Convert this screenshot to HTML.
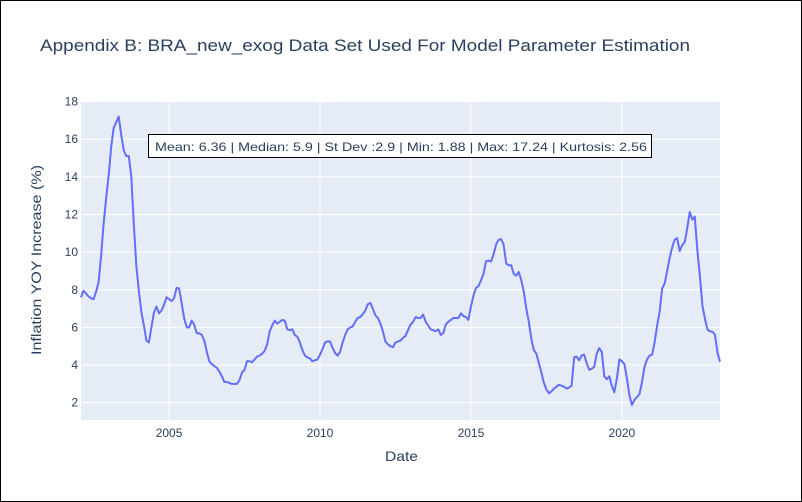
<!DOCTYPE html>
<html><head><meta charset="utf-8"><style>
body{margin:0;background:#fff}
svg{display:block;font-family:"Liberation Sans",Arial,sans-serif}
</style></head><body>
<svg id="c" width="802" height="502" xmlns="http://www.w3.org/2000/svg">
<rect x="0.5" y="0.5" width="801" height="501" fill="#fff" stroke="#000"/>
<text x="40" y="51" font-size="17" fill="#2a3f5f" textLength="650" lengthAdjust="spacingAndGlyphs">Appendix B: BRA_new_exog Data Set Used For Model Parameter Estimation</text>
<rect x="81" y="101" width="639" height="319" fill="#E5ECF6"/>
<g id="grid"></g>
<g id="ticks"></g>
<path id="line" fill="none" stroke="#636efa" stroke-width="2" stroke-linejoin="round"/>
<text x="385" y="461" font-size="14" fill="#2a3f5f" textLength="33" lengthAdjust="spacingAndGlyphs">Date</text>
<text transform="translate(41,260) rotate(-90)" font-size="14" fill="#2a3f5f" text-anchor="middle" textLength="190" lengthAdjust="spacingAndGlyphs">Inflation YOY Increase (%)</text>
<rect x="148.5" y="134.5" width="503" height="23" fill="#fff" stroke="#000"/>
<text x="155" y="151" font-size="12" fill="#2a3f5f" textLength="492" lengthAdjust="spacingAndGlyphs">Mean: 6.36 | Median: 5.9 | St Dev :2.9 | Min: 1.88 | Max: 17.24 | Kurtosis: 2.56</text>
</svg>
<script>
const startYear = 2002, startMonth = 2;
const values = [
7.6,7.95,7.8,7.65,7.55,7.5,7.9,8.4,9.8,11.5,12.9,
14.1,15.6,16.6,16.9,17.2,16.2,15.4,15.1,15.1,14.0,11.5,9.3,
7.9,6.8,6.1,5.3,5.2,6.0,6.8,7.1,6.75,6.9,7.2,7.6,
7.5,7.4,7.55,8.1,8.07,7.3,6.5,6.0,6.0,6.36,6.15,5.7,
5.68,5.6,5.3,4.7,4.2,4.05,3.95,3.85,3.65,3.4,3.1,3.1,
3.05,3.0,3.0,3.0,3.2,3.6,3.75,4.2,4.2,4.15,4.3,4.45,
4.5,4.6,4.75,5.1,5.8,6.1,6.36,6.2,6.3,6.4,6.36,5.9,
5.85,5.9,5.6,5.5,5.2,4.8,4.5,4.4,4.36,4.2,4.25,4.3,
4.55,4.85,5.2,5.26,5.25,4.9,4.64,4.5,4.7,5.2,5.6,5.9,
6.0,6.05,6.3,6.5,6.55,6.7,6.9,7.23,7.3,7.0,6.65,6.5,
6.2,5.8,5.25,5.1,5.0,4.95,5.2,5.25,5.3,5.45,5.55,5.85,
6.15,6.3,6.55,6.5,6.5,6.68,6.3,6.1,5.9,5.85,5.8,5.9,
5.6,5.7,6.15,6.3,6.4,6.5,6.5,6.5,6.75,6.6,6.55,6.4,
7.1,7.7,8.1,8.2,8.5,8.85,9.5,9.55,9.5,9.9,10.4,10.65,
10.7,10.4,9.4,9.3,9.3,8.85,8.75,8.95,8.5,7.9,7.0,6.3,
5.4,4.8,4.6,4.1,3.6,3.05,2.7,2.5,2.6,2.75,2.85,2.95,
2.9,2.85,2.75,2.8,2.9,4.4,4.45,4.25,4.5,4.55,4.1,3.75,
3.8,3.9,4.6,4.9,4.7,3.4,3.25,3.4,2.9,2.55,3.3,4.3,
4.2,4.05,3.3,2.4,1.88,2.15,2.3,2.45,3.1,3.9,4.3,4.5,
4.55,5.2,6.1,6.8,8.05,8.35,9.0,9.7,10.25,10.67,10.74,10.06,
10.38,10.54,11.3,12.13,11.73,11.89,10.07,8.73,7.17,6.47,5.9,5.79,
5.77,5.6,4.65,4.18];
const yTicks = [2,4,6,8,10,12,14,16,18];
const xTicks = [2005,2010,2015,2020];

const NS = "http://www.w3.org/2000/svg";
const X0 = 81, X1 = 720, Y0 = 101, Y1 = 420;
const dates = values.map((v,i) => startYear + (startMonth - 1 + i) / 12);
const dMin = dates[0], dMax = dates[dates.length-1];
const yMin = 1.08, yMax = 18.03;
const xs = d => X0 + (d - dMin) / (dMax - dMin) * (X1 - X0);
const ys = v => Y1 - (v - yMin) / (yMax - yMin) * (Y1 - Y0);

const grid = document.getElementById('grid'), ticks = document.getElementById('ticks');
function mk(tag, attrs, parent){ const e = document.createElementNS(NS, tag); for (const k in attrs) e.setAttribute(k, attrs[k]); parent.appendChild(e); return e; }
yTicks.forEach(t => {
  const y = ys(t);
  const g = mk('line', {x1:X0, x2:X1, y1:y, y2:y, stroke:'#fff', 'stroke-width':1}, grid);
  
  
  const l = mk('text', {x:X0-3, y:y+4, 'font-size':12, fill:'#2a3f5f', 'text-anchor':'end'}, ticks);
  l.textContent = t;
  
  
});
xTicks.forEach(t => {
  const x = xs(t);
  const g = mk('line', {x1:x, x2:x, y1:Y0, y2:Y1, stroke:'#fff', 'stroke-width':1}, grid);
  
  
  const l = mk('text', {x:x, y:Y1+17, 'font-size':12, fill:'#2a3f5f', 'text-anchor':'middle'}, ticks);
  l.textContent = t;
  
  
});
document.getElementById('line').setAttribute('d', values.map((v,i) => (i ? 'L' : 'M') + xs(dates[i]).toFixed(1) + ',' + ys(v).toFixed(1)).join(''));
</script>
</body></html>
